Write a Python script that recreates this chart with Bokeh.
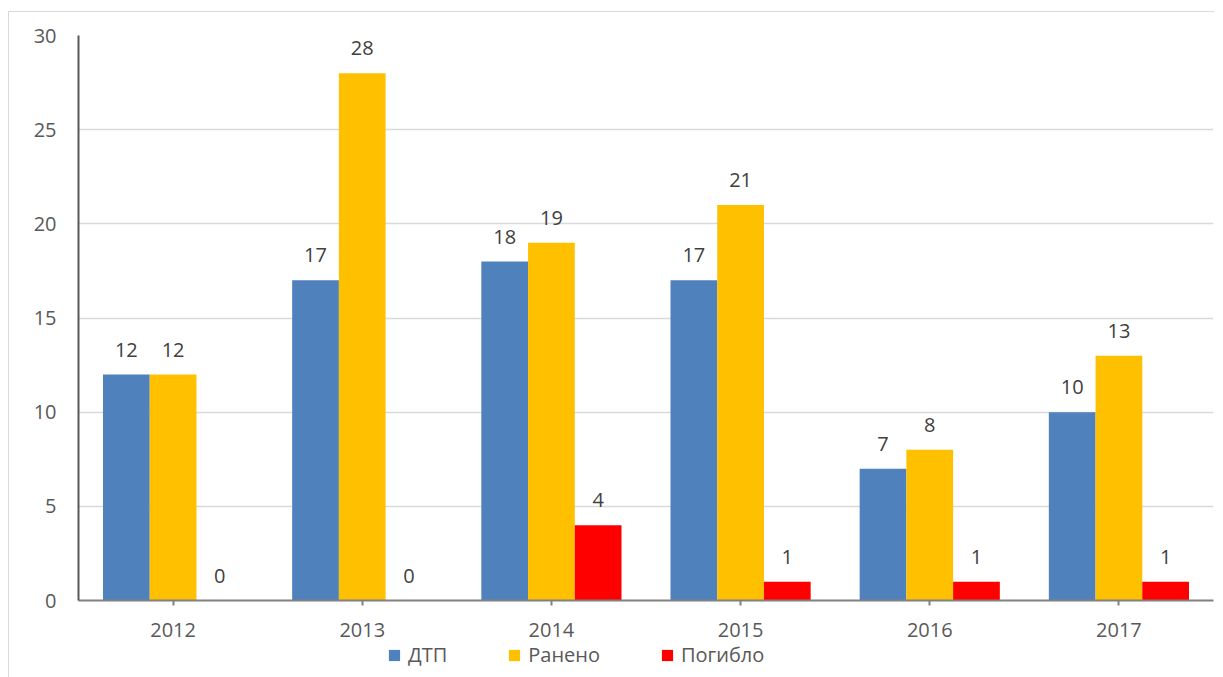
from bokeh.plotting import figure
from bokeh.models import (ColumnDataSource, FactorRange, Range1d, FixedTicker,
                          Legend, LegendItem)
from bokeh.layouts import column
from bokeh.transform import dodge
from bokeh.embed import file_html
from bokeh.resources import INLINE

years = ["2012", "2013", "2014", "2015", "2016", "2017"]
dtp = [12, 17, 18, 17, 7, 10]
raneno = [12, 28, 19, 21, 8, 13]
pogiblo = [0, 0, 4, 1, 1, 1]
series_names = ["ДТП", "Ранено", "Погибло"]
colors = ["#4f81bd", "#ffc000", "#ff0000"]

FONT = "Open Sans"

src = ColumnDataSource(dict(
    x=years, dtp=dtp, raneno=raneno, pogiblo=pogiblo,
    dtp_t=[str(v) for v in dtp],
    raneno_t=[str(v) for v in raneno],
    pogiblo_t=[str(v) for v in pogiblo],
))

W = 1205
p = figure(x_range=FactorRange(*years, range_padding=0), y_range=Range1d(0, 30),
           width=W, height=633, output_backend="svg", toolbar_location=None,
           min_border_left=69, min_border_right=1, min_border_top=23,
           min_border_bottom=45)
p.outline_line_color = None
p.background_fill_color = "white"
p.border_fill_color = "white"

bw = 0.247
offsets = [-bw, 0.0, bw]
fields = ["dtp", "raneno", "pogiblo"]
for f, off, c in zip(fields, offsets, colors):
    p.vbar(x=dodge("x", off, range=p.x_range), top=f, width=bw, bottom=0,
           source=src, fill_color=c, line_color=None)
    p.text(x=dodge("x", off, range=p.x_range), y=f, text=f + "_t", source=src,
           text_align="center", text_baseline="alphabetic", y_offset=-25,
           text_font_size="20px", text_color="#404040", text_font={"value": FONT})

# axes
p.yaxis.ticker = FixedTicker(ticks=[0, 5, 10, 15, 20, 25, 30])
p.yaxis.axis_line_color = "#595959"
p.yaxis.axis_line_width = 2
p.yaxis.major_tick_line_color = None
p.yaxis.minor_tick_line_color = None
p.yaxis.major_label_standoff = 16
p.yaxis.major_label_text_font = FONT
p.yaxis.major_label_text_font_size = "20px"
p.yaxis.major_label_text_color = "#595959"

p.xaxis.axis_line_color = "#808080"
p.xaxis.axis_line_width = 2
p.xaxis.major_tick_line_color = "#808080"
p.xaxis.major_tick_line_width = 2
p.xaxis.major_tick_out = 5
p.xaxis.major_tick_in = 0
p.xaxis.major_label_standoff = 17
p.xaxis.major_label_text_font = FONT
p.xaxis.major_label_text_font_size = "20px"
p.xaxis.major_label_text_color = "#595959"

p.xgrid.grid_line_color = None
p.ygrid.grid_line_color = "#d9d9d9"
p.ygrid.grid_line_width = 1.5

# legend strip below the chart (transparent, slightly overlapping)
lf = figure(width=W, height=40, output_backend="svg", toolbar_location=None,
            x_range=Range1d(0, 1), y_range=Range1d(0, 1),
            min_border_left=0, min_border_right=0, min_border_top=0,
            min_border_bottom=0, x_axis_type=None, y_axis_type=None)
lf.outline_line_color = None
lf.grid.grid_line_color = None
lf.background_fill_alpha = 0
lf.border_fill_alpha = 0
lf.styles = {"margin-top": "-8px"}
leg_renderers = [lf.vbar(x=[10], top=[0], width=0.1, fill_color=c, line_color=None)
                 for c in colors]
legend = Legend(items=[LegendItem(label=n, renderers=[r]) for n, r in zip(series_names, leg_renderers)],
                orientation="horizontal", location=(309, 9),
                label_text_font=FONT, label_text_font_size="20px",
                label_text_color="#595959", glyph_width=14, glyph_height=14,
                label_standoff=7, spacing=60, padding=0, margin=0,
                border_line_color=None, background_fill_alpha=0,
                label_height=20)
lf.add_layout(legend, "center")

layout = column(p, lf, spacing=0)
layout.styles = {"border-left": "1px solid #d9d9d9", "border-top": "1px solid #d9d9d9",
                 "margin-top": "11px", "margin-left": "8px"}

open("out.html", "w").write(file_html(layout, INLINE))
